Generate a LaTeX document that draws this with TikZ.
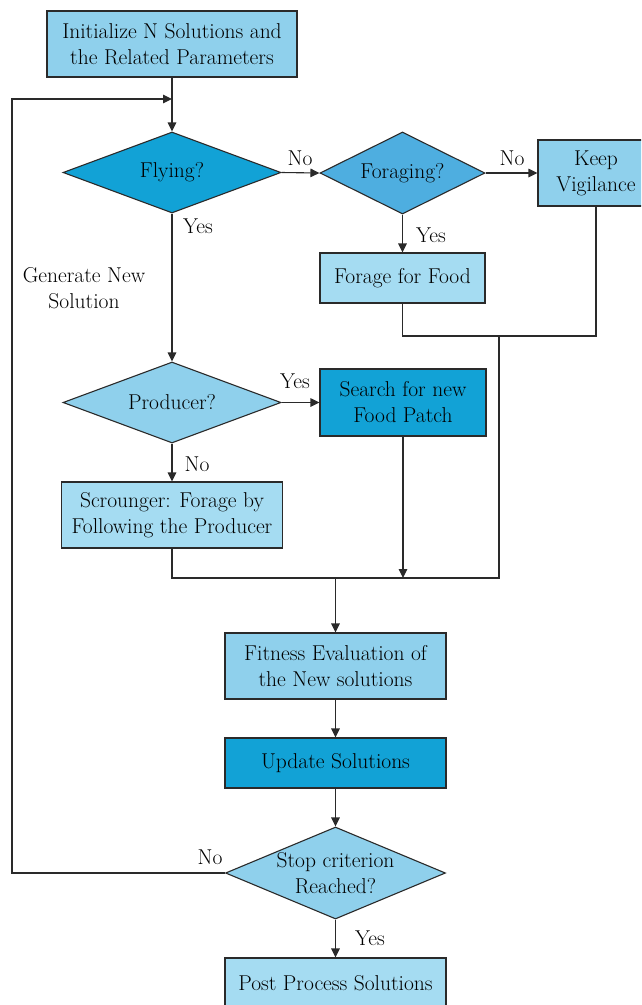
\documentclass[tikz,border=0pt]{standalone}
\usetikzlibrary{shapes.geometric,arrows.meta}
\definecolor{cdark}{HTML}{12A2D6}
\definecolor{cmid}{HTML}{4EAEE0}
\definecolor{clight}{HTML}{8FD0EC}
\definecolor{cpale}{HTML}{A5DCF2}
\definecolor{cline}{HTML}{2A2A2A}
\tikzset{
  base/.style={draw=cline, line width=1.1pt, text=black, inner sep=0pt, align=center,
    font=\fontsize{21.5}{26}\selectfont},
  procbox/.style={base, rectangle},
  decbox/.style={base, diamond},
  conn/.style={draw=cline, line width=1.1pt},
  arr/.style={conn, -{Triangle[length=9pt,width=8.5pt]}},
  lbl/.style={font=\fontsize{21.5}{26}\selectfont, inner sep=0pt, align=center}
}
\begin{document}
\begin{tikzpicture}[x=1pt,y=-1pt]
\useasboundingbox (0,0) rectangle (641,1005);
\fill[white] (0,0) rectangle (641,1005);
\begin{scope}
\clip (0,0) rectangle (641,1005);
% nodes
\node[procbox, fill=clight, minimum width=250pt, minimum height=66pt] (init) at (172,44) {Initialize N Solutions and\\the Related Parameters};
\node[decbox, fill=cdark, minimum width=218pt, minimum height=81pt, aspect=2.7] (flying) at (172,172.5) {Flying?};
\node[decbox, fill=cmid, minimum width=165pt, minimum height=82pt, aspect=2.0] (foraging) at (402.5,173) {Foraging?};
\node[procbox, fill=clight, minimum width=116pt, minimum height=66pt] (keep) at (596,173) {Keep\\Vigilance};
\node[procbox, fill=cpale, minimum width=165pt, minimum height=50pt] (forage) at (402.5,278) {Forage for Food};
\node[decbox, fill=clight, minimum width=218pt, minimum height=81pt, aspect=2.7] (producer) at (172,402.5) {Producer?};
\node[procbox, fill=cdark, minimum width=166pt, minimum height=67pt] (search) at (403,402.5) {Search for new\\Food Patch};
\node[procbox, fill=cpale, minimum width=221pt, minimum height=66pt] (scrounger) at (172,515) {Scrounger: Forage by\\Following the Producer};
\node[procbox, fill=clight, minimum width=221pt, minimum height=66pt] (fitness) at (335.5,666) {Fitness Evaluation of\\the New solutions};
\node[procbox, fill=cdark, minimum width=221pt, minimum height=50pt] (update) at (335.5,763) {Update Solutions};
\node[decbox, fill=clight, minimum width=220pt, minimum height=92pt, aspect=2.4] (stop) at (335.5,873) {Stop criterion\\Reached?};
\node[procbox, fill=cpale, minimum width=221pt, minimum height=50pt] (post) at (335.5,983) {Post Process Solutions};
% coordinates
\coordinate (loopin) at (172,99);
\coordinate (loopl) at (12,99);
\coordinate (r1) at (499,336);
\coordinate (r2) at (499,578);
\coordinate (m) at (335.5,578);
% connectors
\draw[conn] (init.south) -- (loopin);
\draw[arr] (loopin) -- (flying.north);
\draw[arr] (stop.west) -| (loopl) -- (loopin);
\draw[arr] (flying.east) -- (foraging.west);
\draw[arr] (foraging.east) -- (keep.west);
\draw[arr] (foraging.south) -- (forage.north);
\draw[conn] (forage.south) |- (r1) -| (keep.south);
\draw[conn] (r1) -- (r2) -| (scrounger.south);
\draw[arr] (flying.south) -- (producer.north);
\draw[arr] (producer.east) -- (search.west);
\draw[arr] (producer.south) -- (scrounger.north);
\draw[arr] (search.south) -- (search.south |- r2);
\draw[arr] (m) -- (fitness.north);
\draw[arr] (fitness.south) -- (update.north);
\draw[arr] (update.south) -- (stop.north);
\draw[arr] (stop.south) -- (post.north);
% labels
\node[lbl] (l1) at (300,158) {No};
\node[lbl] (l2) at (512,158) {No};
\node[lbl] (l3) at (198,226) {Yes};
\node[lbl] (l4) at (431,235) {Yes};
\node[lbl] (l5) at (84,288) {Generate New\\Solution};
\node[lbl] (l6) at (295,381) {Yes};
\node[lbl] (l7) at (197,464) {No};
\node[lbl] (l8) at (210,857) {No};
\node[lbl] (l9) at (370,938) {Yes};
\end{scope}
\end{tikzpicture}
\end{document}
